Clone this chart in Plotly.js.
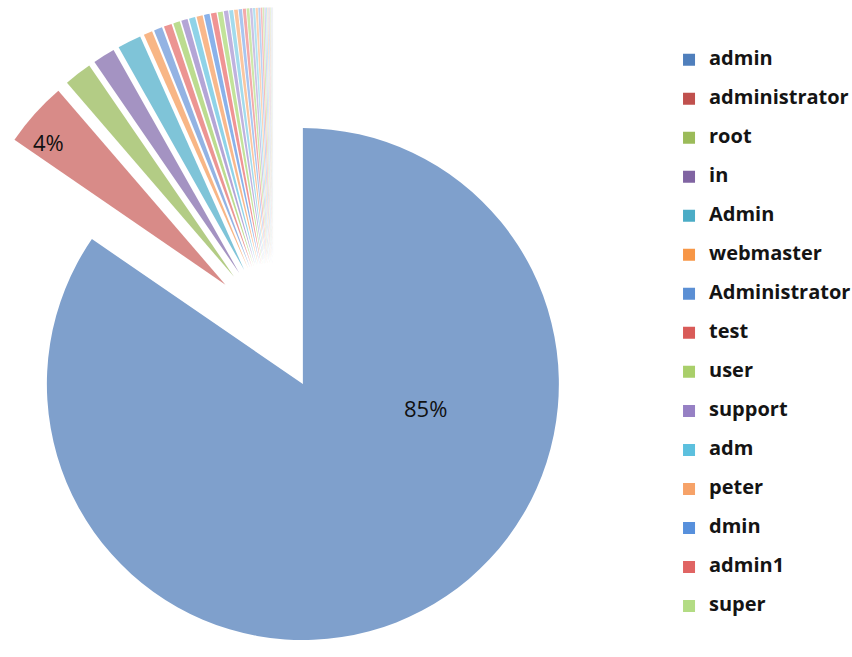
<!DOCTYPE html>
<html><head><meta charset="utf-8">
<script src="https://cdn.plot.ly/plotly-3.0.1.min.js"></script>
<style>
html,body{margin:0;padding:0;overflow:hidden;background:#fff;width:852px;height:657px}
#chart{position:absolute;left:-48px;top:0;width:900px;height:657px}
</style>
</head><body><div id="chart"></div>
<script>
// named categories (as shown in the legend) and their shares (%)
const categories = ['admin','administrator','root','in','Admin','webmaster','Administrator','test','user','support','adm','peter','dmin','admin1','super'];
const values = [84.6, 4.1, 1.75, 1.4, 1.5, 0.55, 0.53, 0.5, 0.42, 0.4, 0.39, 0.38, 0.35, 0.35, 0.31];
// remaining small unnamed slices (%)
const otherValues = [0.27, 0.25, 0.23, 0.21, 0.19, 0.17, 0.15, 0.14, 0.13, 0.12, 0.1, 0.09, 0.08, 0.07, 0.06, 0.05, 0.04, 0.04, 0.03, 0.03, 0.02, 0.02];

// styles
const sliceColors = ['#7fa0cc','#d88b88','#b3cc85','#a493c2','#7fc4d8','#f8b686','#93b3e3','#ec9593','#bcdc8f','#b4a5d6','#8fd3e8','#f9b88b','#8ab2ea','#f09494','#c2e39a'];
const otherColors = ['#bfb2de','#a3dbec','#fbc6a0','#a9c6f0','#f3aaaa','#cde8aa',
  '#cbc1e4','#b4e2f0','#fcd2b4','#bad2f3','#f5bcbc','#d6ecbb',
  '#d9d2ec','#c6e9f3','#fddcc4','#cbdcf5','#f7cccc','#e0f1cc',
  '#e6e1f2','#d6eff6','#fde6d6','#dbe7f8'];
const legendColors = ['#4f7fbc','#c0504d','#9bbb59','#8064a2','#4bacc6','#f79646','#5b8fd4','#d95b58','#a9cf6a','#9680c4','#5cc0de','#f6a268','#5790dc','#e06463','#b3dc84'];

const otherLabels = otherValues.map((v, i) => '(other ' + (i + 16) + ')');
const allLabels = categories.concat(otherLabels);
const allValues = values.concat(otherValues);
const total = allValues.reduce((a, b) => a + b, 0);
const pct = v => Math.round(100 * v / total) + '%';

const pieTrace = {
  type: 'pie',
  labels: allLabels,
  values: allValues,
  sort: false,
  direction: 'clockwise',
  rotation: 0,
  pull: 0.25,
  marker: {colors: sliceColors.concat(otherColors), line: {width: 0}},
  textinfo: 'none',
  hoverinfo: 'label+percent',
  showlegend: false,
  domain: {x: [0.0012, 0.7123], y: [0.0146, 0.9887]}
};

// legend entries (drawn off-screen, only the legend is seen)
const legendTrace = {
  type: 'pie',
  labels: categories.map(c => '\u00a0<br><span style="font-size:20px">' + c + '</span>'),
  values: values,
  sort: false,
  direction: 'clockwise',
  marker: {colors: legendColors, line: {width: 0}},
  textinfo: 'none',
  hoverinfo: 'skip',
  showlegend: true,
  domain: {x: [0, 0.015], y: [0, 0.015]}
};

const layout = {
  width: 900, height: 657,
  margin: {l: 0, r: 0, t: 0, b: 0, autoexpand: false},
  paper_bgcolor: '#fff',
  showlegend: true,
  legend: {
    x: 0.7967, xanchor: 'left', y: 0.96, yanchor: 'top',
    valign: 'bottom',
    bgcolor: 'rgba(0,0,0,0)',
    font: {family: 'Open Sans, sans-serif', size: 13.85, color: '#141414', weight: 'bold'}
  },
  annotations: [
    {xref: 'paper', yref: 'paper', x: 0.5256, y: 0.379, xanchor: 'center', yanchor: 'middle',
     text: pct(values[0]), showarrow: false,
     font: {family: 'Open Sans, sans-serif', size: 22, color: '#111'}},
    {xref: 'paper', yref: 'paper', x: 0.1067, y: 0.7839, xanchor: 'center', yanchor: 'middle',
     text: pct(values[1]), showarrow: false,
     font: {family: 'Open Sans, sans-serif', size: 22, color: '#111'}}
  ]
};

Plotly.newPlot('chart', [pieTrace, legendTrace], layout, {displayModeBar: false, staticPlot: true});
</script>
</body></html>
